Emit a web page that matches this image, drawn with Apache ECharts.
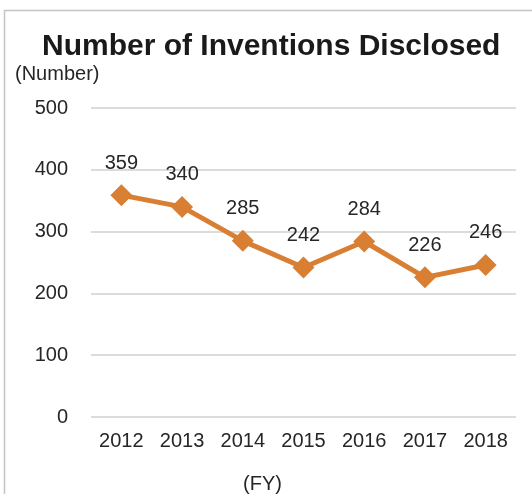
<!DOCTYPE html>
<html><head><meta charset="utf-8">
<script src="https://cdn.jsdelivr.net/npm/echarts@6/dist/echarts.min.js"></script>
<style>html,body{margin:0;padding:0;background:#fff}#c{width:532px;height:494px}</style>
</head><body><div id="c"></div>
<script>
var categories = ['2012','2013','2014','2015','2016','2017','2018'];
var inventions = [359, 340, 285, 242, 284, 226, 246];
var yTicks = {min: 0, max: 500, interval: 100};

var chart = echarts.init(document.getElementById('c'), null, {renderer: 'canvas'});
var font = 'Liberation Sans, Arial, sans-serif';
chart.setOption({
  animation: false,
  backgroundColor: '#fff',
  textStyle: {fontFamily: font},
  title: {
    text: 'Number of Inventions Disclosed',
    left: 37, top: 27,
    textStyle: {fontFamily: font, fontSize: 30, fontWeight: 'bold', color: '#1a1a1a'}
  },
  graphic: [
    {type: 'rect', shape: {x: 4.5, y: 10.5, width: 600, height: 600}, style: {fill: 'none', stroke: '#c4c4c4', lineWidth: 1.5}, silent: true},
    {type: 'text', left: 15, top: 64, style: {text: '(Number)', fontFamily: font, fontSize: 20, fill: '#262626'}},
    {type: 'text', left: 243, top: 474, style: {text: '(FY)', fontFamily: font, fontSize: 20, fill: '#262626'}}
  ],
  grid: {left: 91, right: 16, top: 108, bottom: 77},
  xAxis: {
    type: 'category', data: categories, boundaryGap: true,
    axisLine: {show: false}, axisTick: {show: false},
    axisLabel: {fontFamily: font, fontSize: 20, color: '#262626', margin: 14}
  },
  yAxis: {
    type: 'value', min: yTicks.min, max: yTicks.max, interval: yTicks.interval,
    axisLine: {show: false}, axisTick: {show: false},
    axisLabel: {fontFamily: font, fontSize: 20, color: '#262626', margin: 23},
    splitLine: {lineStyle: {color: '#d0d0d0', width: 1.5}}
  },
  series: [{
    type: 'line', data: inventions,
    symbol: 'diamond', symbolSize: 22,
    lineStyle: {color: '#D97F33', width: 5},
    itemStyle: {color: '#D97F33'},
    label: {show: true, position: 'top', distance: 11, fontFamily: font, fontSize: 20, color: '#262626'}
  }]
});
</script></body></html>
